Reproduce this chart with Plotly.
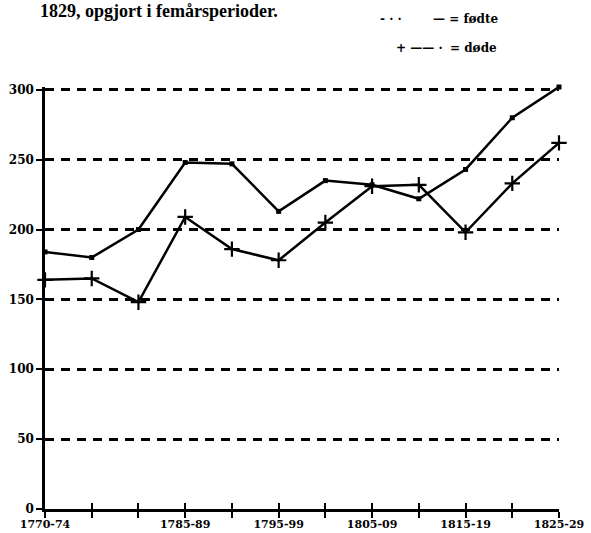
import plotly.graph_objects as go

# Five-year periods 1770-1829
perioder = ["1770-74", "1775-79", "1780-84", "1785-89", "1790-94", "1795-99",
            "1800-04", "1805-09", "1810-14", "1815-19", "1820-24", "1825-29"]
viste_etiketter = ["1770-74", "1785-89", "1795-99", "1805-09", "1815-19", "1825-29"]

fodte = [184, 180, 200, 248, 247, 213, 235, 232, 222, 243, 280, 302]
dode = [164, 165, 148, 209, 186, 178, 205, 231, 232, 198, 233, 262]

y_ticks = [0, 50, 100, 150, 200, 250, 300]

idx = list(range(len(perioder)))
tick_text = [p if p in viste_etiketter else "" for p in perioder]

W, H = 591, 533
L, R, T, B = 45, 32, 87, 24
pw, ph = W - L - R, H - T - B
Y_MAX = 302


def px(x):
    return (x - L) / pw


def py(y):
    return (H - B - y) / ph


tick_font = dict(family="DejaVu Serif", size=12, color="black", weight="bold")
xtick_font = dict(family="DejaVu Serif", size=11, color="black", weight="bold")

fig = go.Figure()

fig.add_trace(go.Scatter(
    x=idx, y=fodte, mode="lines+markers", name="fødte",
    line=dict(color="black", width=2.5),
    marker=dict(symbol="square", size=5, color="black"),
    cliponaxis=False,
))
fig.add_trace(go.Scatter(
    x=idx, y=dode, mode="lines+markers", name="døde",
    line=dict(color="black", width=2.5),
    marker=dict(symbol="cross-thin", size=11, line=dict(color="black", width=2.2)),
    cliponaxis=False,
))

fig.update_layout(
    width=W, height=H,
    margin=dict(l=L, r=R, t=T, b=B),
    paper_bgcolor="white", plot_bgcolor="white",
    showlegend=False,
    font=dict(family="DejaVu Serif", color="black"),
    xaxis=dict(
        range=[0, len(perioder) - 1], tickmode="array", tickvals=idx, ticktext=tick_text,
        showgrid=False, zeroline=False, showline=True, linecolor="black", linewidth=2.5,
        ticks="outside", ticklen=6, tickwidth=2, tickcolor="black",
        tickfont=xtick_font, automargin=False, ticklabelstandoff=-3,
    ),
    xaxis2=dict(
        range=[0, len(perioder) - 1], overlaying="x", tickmode="array", tickvals=idx,
        showticklabels=False, showgrid=False, zeroline=False, showline=False,
        ticks="inside", ticklen=6, tickwidth=2, tickcolor="black", anchor="y",
        automargin=False,
    ),
    yaxis=dict(
        range=[0, Y_MAX], tickmode="array", tickvals=y_ticks,
        showgrid=True, gridcolor="black", gridwidth=2.5, griddash="9px,7px",
        zeroline=False, showline=True, linecolor="black", linewidth=2.5,
        ticks="outside", ticklen=6, tickwidth=2, tickcolor="black",
        tickfont=tick_font, automargin=False,
    ),
    yaxis2=dict(
        range=[0, Y_MAX], overlaying="y", tickmode="array", tickvals=y_ticks,
        showticklabels=False, showgrid=False, zeroline=False, showline=False,
        ticks="inside", ticklen=5, tickwidth=2, tickcolor="black", anchor="x", side="left",
        automargin=False,
    ),
)

# invisible trace to activate overlay axes
fig.add_trace(go.Scatter(x=[0], y=[0], xaxis="x2", yaxis="y2", mode="markers",
                         marker=dict(opacity=0), hoverinfo="skip"))

ann = []
ann.append(dict(text="<b>1829, opgjort i femårsperioder.</b>", x=px(38), y=py(23),
                xanchor="left", yanchor="bottom",
                font=dict(family="Liberation Serif", size=18, color="black")))
leg_font = dict(family="DejaVu Serif", size=12, color="black")
ann.append(dict(text="<b>- · ·</b>", x=px(378), y=py(19), xanchor="left", yanchor="middle", font=leg_font))
ann.append(dict(text="<b>— = fødte</b>", x=px(501), y=py(19), xanchor="right", yanchor="middle", font=leg_font))
ann.append(dict(text="<b>+ —— ·</b>", x=px(394), y=py(48), xanchor="left", yanchor="middle", font=leg_font))
ann.append(dict(text="<b>= døde</b>", x=px(499), y=py(48), xanchor="right", yanchor="middle", font=leg_font))
for a in ann:
    a.update(xref="paper", yref="paper", showarrow=False)
fig.update_layout(annotations=ann)

fig.write_html("out.html")
